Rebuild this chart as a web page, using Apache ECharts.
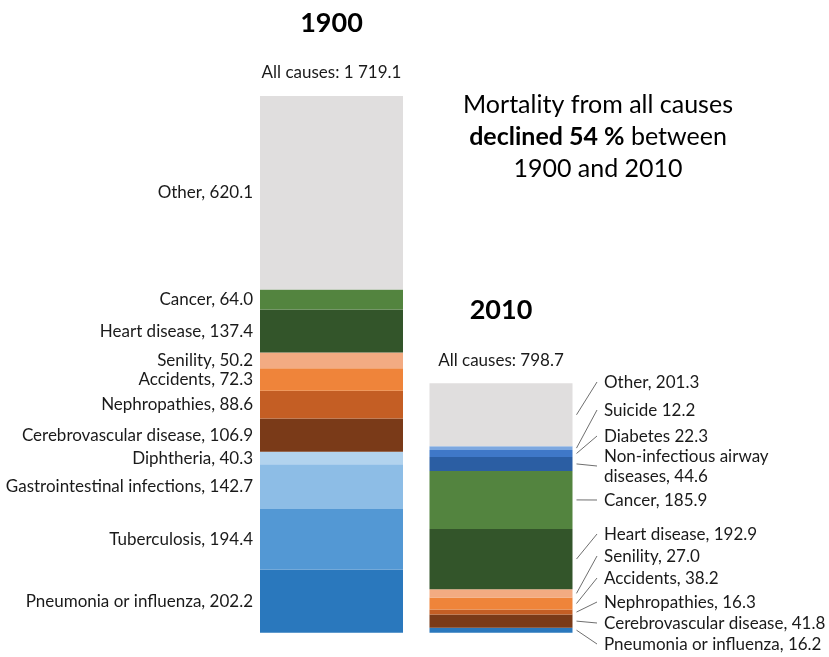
<!DOCTYPE html>
<html>
<head>
<meta charset="utf-8">
<title>Mortality by cause, 1900 and 2010</title>
<script src="https://cdn.jsdelivr.net/npm/echarts@6/dist/echarts.min.js"></script>
<style>
  html, body { margin: 0; padding: 0; background: #fff; }
  #c { width: 829px; height: 657px; }
</style>
</head>
<body>
<div id="c"></div>
<script>
// Death rates per cause, stacked bottom to top
const years = ['1900', '2010'];
const causes = [
  'Pneumonia or influenza', 'Tuberculosis', 'Gastrointestinal infections', 'Diphtheria',
  'Cerebrovascular disease', 'Nephropathies', 'Accidents', 'Senility',
  'Heart disease', 'Cancer', 'Non-infectious airway\ndiseases', 'Diabetes', 'Suicide', 'Other'
];
const deaths1900 = [202.2, 194.4, 142.7, 40.3, 106.9, 88.6, 72.3, 50.2, 137.4, 64.0, null, null, null, 620.1];
const deaths2010 = [16.2, null, null, null, 41.8, 16.3, 38.2, 27.0, 192.9, 185.9, 44.6, 22.3, 12.2, 201.3];

// Labels on the 2010 bar written without a comma
const noComma2010 = ['Diabetes', 'Suicide'];

// Segment colours
const colors = [
  '#2A78BD', '#5398D4', '#8DBDE6', '#B2D3EE',
  '#7A3A18', '#C45E24', '#EF843A', '#F3AB82',
  '#33552A', '#53843F', '#2B5EA3', '#3F78C8', '#7DA8E0', '#E0DEDE'
];

// Vertical placement of the 2010 callout labels (pixels)
const label2010Y = {
  'Pneumonia or influenza': 645, 'Cerebrovascular disease': 624, 'Nephropathies': 603,
  'Accidents': 579, 'Senility': 557, 'Heart disease': 535, 'Cancer': 501,
  'Non-infectious airway\ndiseases': 467, 'Diabetes': 437, 'Suicide': 411, 'Other': 383
};
const LABEL_X_2010 = 604;
const BAR_WIDTH = 143;
const FONT = 'Lato, "Open Sans", "Noto Sans", sans-serif';
const TEXT = '#1a1a1a';

const sum = arr => arr.reduce((a, b) => a + (b || 0), 0);
const totals = [sum(deaths1900), sum(deaths2010)];
const fmtTotal = n => {
  const [i, d] = n.toFixed(1).split('.');
  return i.replace(/\B(?=(\d{3})+(?!\d))/g, ' ') + '.' + d;
};
const decline = Math.round((1 - totals[1] / totals[0]) * 100);

const series = causes.map((name, i) => ({
  name,
  type: 'bar',
  stack: 'all',
  barWidth: BAR_WIDTH,
  silent: true,
  itemStyle: { color: colors[i] },
  data: [deaths1900[i] == null ? '-' : deaths1900[i], deaths2010[i] == null ? '-' : deaths2010[i]],
  label: {
    show: true,
    position: 'left',
    distance: 7,
    fontFamily: FONT,
    fontSize: 17,
    lineHeight: 20,
    color: TEXT,
    formatter: p => name + (p.dataIndex === 1 && noComma2010.includes(name) ? ' ' : ', ') + Number(p.value).toFixed(1)
  },
  labelLayout: p => p.dataIndex === 1
    ? { x: LABEL_X_2010, y: label2010Y[name], align: 'left', verticalAlign: 'middle' }
    : {}
}));

// Year heading and total above each bar
series.push({
  name: 'All causes',
  type: 'bar',
  stack: 'all',
  barWidth: BAR_WIDTH,
  silent: true,
  itemStyle: { color: 'rgba(0,0,0,0)' },
  data: [0, 0],
  label: {
    show: true,
    position: 'top',
    distance: 13,
    fontFamily: FONT,
    color: TEXT,
    formatter: p => '{yr|' + years[p.dataIndex] + '}\n{tot|All causes: ' + fmtTotal(totals[p.dataIndex]) + '}',
    rich: {
      yr: { fontFamily: FONT, fontSize: 27, fontWeight: 'bold', lineHeight: 80, color: '#000' },
      tot: { fontFamily: FONT, fontSize: 17, lineHeight: 20, color: TEXT }
    }
  }
});

const chart = echarts.init(document.getElementById('c'));
chart.setOption({
  animation: false,
  backgroundColor: '#fff',
  grid: { left: 246.75, width: 339, top: 96, bottom: 24.3 },
  xAxis: { type: 'category', data: years, show: false },
  yAxis: { type: 'value', min: 0, max: 'dataMax', show: false },
  series
});

// Leader lines from the 2010 segments to their labels, plus the headline text
const elements = [];
let cum = 0;
causes.forEach((name, i) => {
  const v = deaths2010[i];
  if (v == null) return;
  const [xc, yMid] = chart.convertToPixel({ gridIndex: 0 }, [1, cum + v / 2]);
  cum += v;
  elements.push({
    type: 'line',
    silent: true,
    shape: { x1: xc + BAR_WIDTH / 2 + 4, y1: yMid, x2: LABEL_X_2010 - 7, y2: label2010Y[name] - 1 },
    style: { stroke: '#6f6f6f', lineWidth: 1 }
  });
});
elements.push({
  type: 'text',
  x: 598,
  y: 89,
  silent: true,
  style: {
    text: 'Mortality from all causes\n{b|declined ' + decline + ' %} between\n1900 and 2010',
    align: 'center',
    verticalAlign: 'top',
    fontFamily: FONT,
    fontSize: 25,
    lineHeight: 32,
    fill: '#000',
    rich: { b: { fontFamily: FONT, fontSize: 25, fontWeight: 'bold', lineHeight: 32, fill: '#000' } }
  }
});
chart.setOption({ graphic: { elements } });
</script>
</body>
</html>
